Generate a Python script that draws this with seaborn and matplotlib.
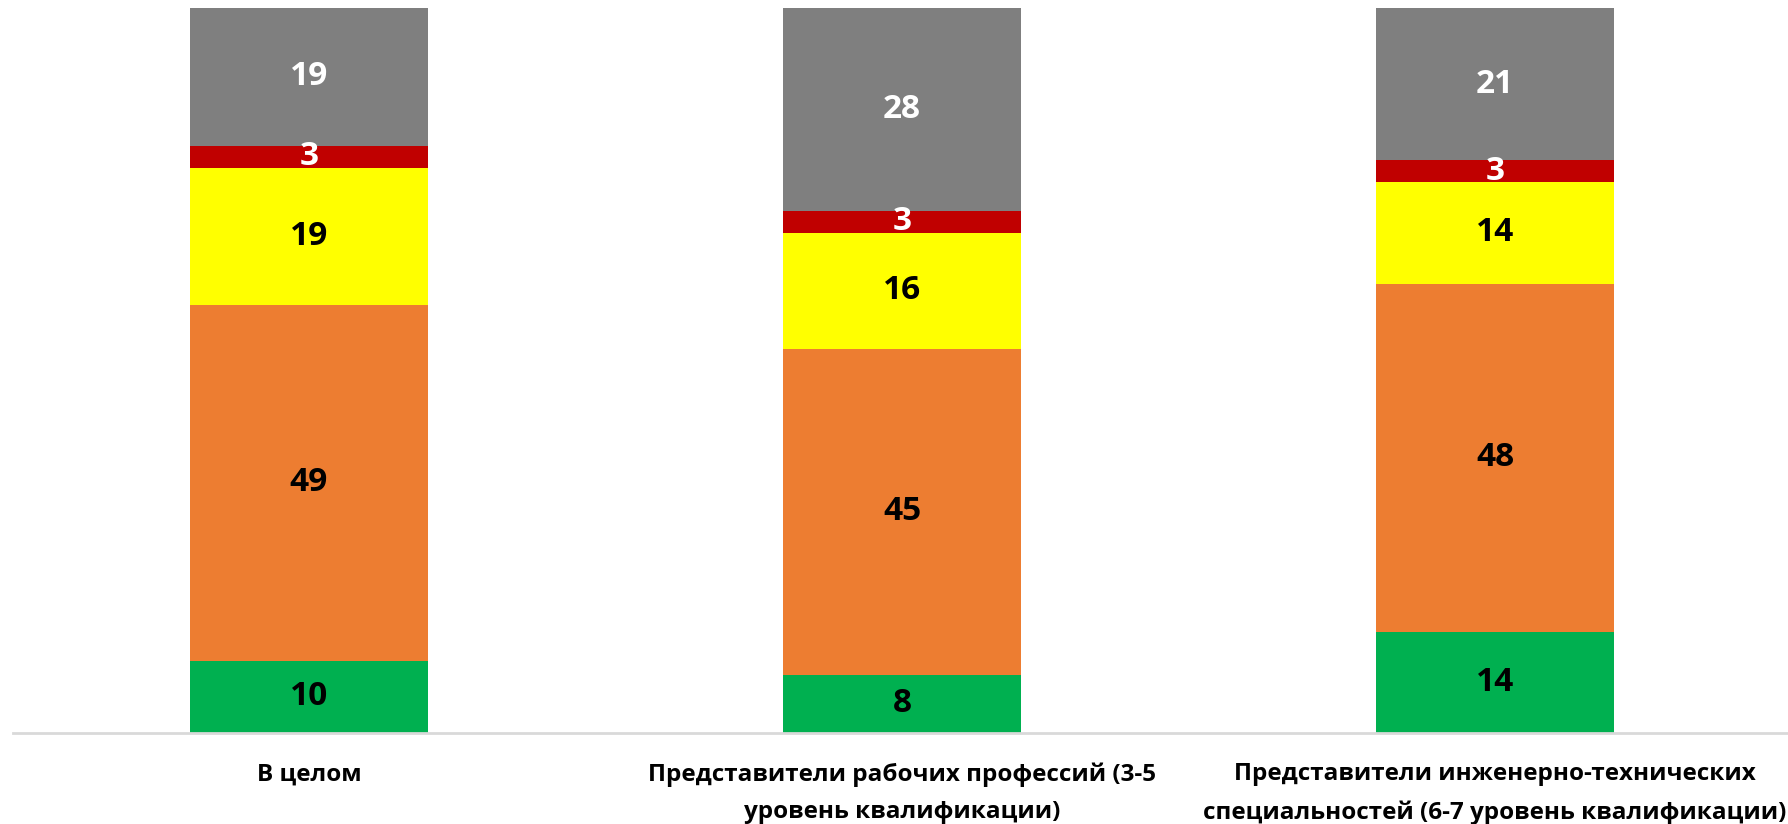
import numpy as np
import pandas as pd
import matplotlib
matplotlib.use("Agg")
import matplotlib.pyplot as plt
import seaborn as sns

categories = ["В целом",
              "Представители рабочих профессий (3-5\nуровень квалификации)",
              "Представители инженерно-технических\nспециальностей (6-7 уровень квалификации)"]
series_names = ["green", "orange", "yellow", "red", "gray"]
green = [10, 8, 14]
orange = [49, 45, 48]
yellow = [19, 16, 14]
red = [3, 3, 3]
gray = [19, 28, 21]

colors = ["#00B050", "#ED7D31", "#FFFF00", "#C00000", "#7F7F7F"]
text_colors = ["black", "black", "black", "white", "white"]

sns.set_theme(style="white")
plt.rcParams['font.family'] = ['Open Sans', 'DejaVu Sans']

fig = plt.figure(figsize=(17.88, 8.24), dpi=100)
ax = fig.add_axes([12.5 / 1788, 1 - 733 / 824, 1779 / 1788, 725 / 824])

bottom = np.zeros(len(categories))
for name, vals, col, tcol in zip(series_names, [green, orange, yellow, red, gray], colors, text_colors):
    df = pd.DataFrame({"cat": categories, "val": vals})
    sns.barplot(data=df, x="cat", y="val", bottom=bottom, color=col, width=0.4,
                saturation=1, ax=ax, linewidth=0)
    for i, v in enumerate(vals):
        ax.text(i, bottom[i] + v / 2, str(v), ha="center", va="center",
                fontsize=24, fontweight="bold", color=tcol)
    bottom = bottom + np.array(vals)

ax.set_ylim(0, 100)
ax.set_xlim(-0.5, 2.5)
ax.set_xlabel("")
ax.set_ylabel("")
ax.set_yticks([])
ax.tick_params(axis="x", length=0, pad=21)
for lbl in ax.get_xticklabels():
    lbl.set_fontsize(17.5)
    lbl.set_fontweight("bold")
    lbl.set_color("black")
    lbl.set_linespacing(1.75)
    lbl.set_verticalalignment("top")
for s in ["top", "right", "left"]:
    ax.spines[s].set_visible(False)
ax.spines["bottom"].set_color("#D9D9D9")
ax.spines["bottom"].set_linewidth(2)

fig.savefig("out.png", dpi=100)
